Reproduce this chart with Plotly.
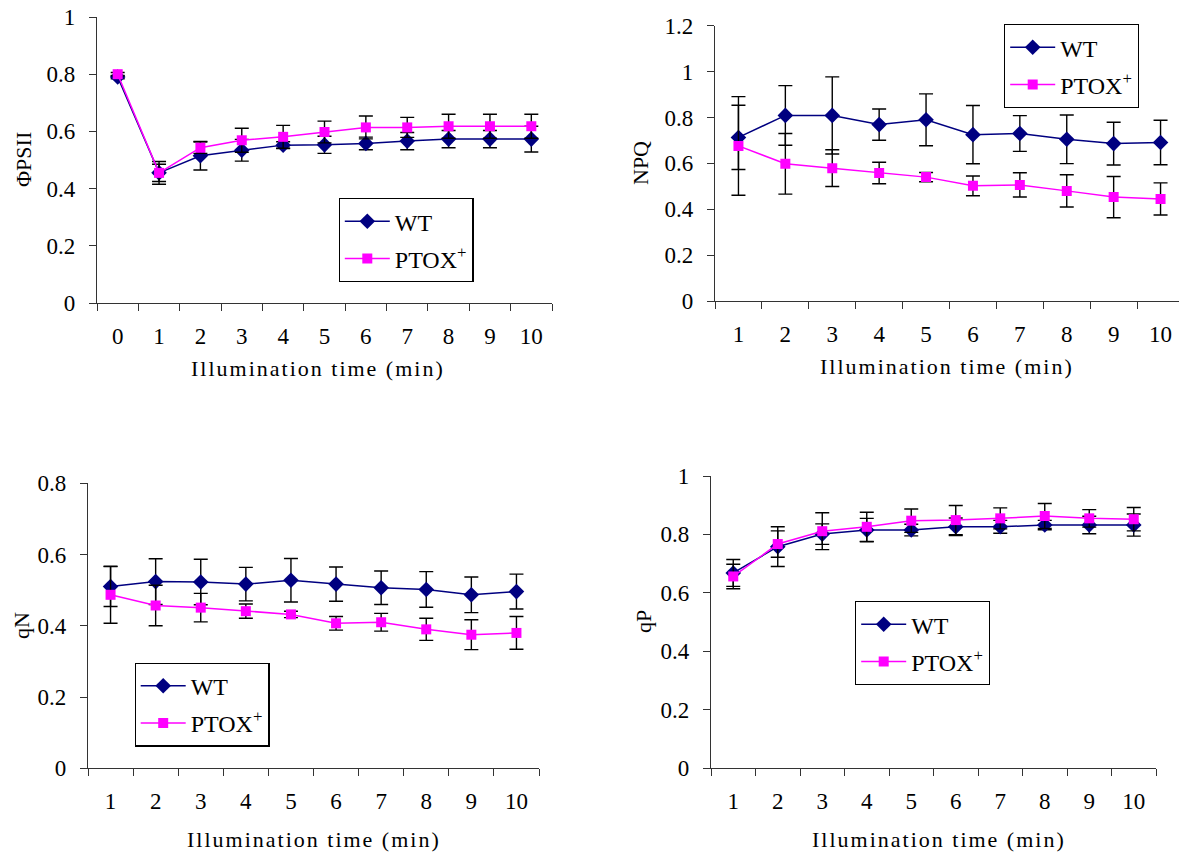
import plotly.graph_objects as go

W, H = 1179, 854

# ---------------- data ----------------
time_psii = ["0", "1", "2", "3", "4", "5", "6", "7", "8", "9", "10"]
time_min = ["1", "2", "3", "4", "5", "6", "7", "8", "9", "10"]

psii_wt = [0.79, 0.455, 0.515, 0.534, 0.552, 0.553, 0.558, 0.566, 0.573, 0.573, 0.573]
psii_wt_err = [0.006, 0.04, 0.05, 0.038, 0.012, 0.03, 0.022, 0.03, 0.03, 0.03, 0.045]
psii_ptox = [0.80, 0.455, 0.543, 0.569, 0.581, 0.598, 0.614, 0.614, 0.618, 0.618, 0.618]
psii_ptox_err = [0.006, 0.03, 0.02, 0.042, 0.04, 0.038, 0.04, 0.035, 0.042, 0.042, 0.042]

npq_wt = [0.713, 0.809, 0.809, 0.769, 0.79, 0.725, 0.73, 0.705, 0.686, 0.691]
npq_wt_err = [0.14, 0.13, 0.168, 0.068, 0.113, 0.127, 0.078, 0.106, 0.093, 0.097]
npq_ptox = [0.676, 0.598, 0.579, 0.558, 0.54, 0.502, 0.506, 0.48, 0.453, 0.445]
npq_ptox_err = [0.215, 0.132, 0.08, 0.047, 0.02, 0.043, 0.053, 0.07, 0.09, 0.07]

qn_wt = [0.51, 0.524, 0.523, 0.517, 0.528, 0.517, 0.507, 0.502, 0.487, 0.496]
qn_wt_err = [0.056, 0.064, 0.064, 0.047, 0.061, 0.048, 0.047, 0.05, 0.05, 0.049]
qn_ptox = [0.487, 0.457, 0.451, 0.441, 0.432, 0.407, 0.41, 0.39, 0.375, 0.38]
qn_ptox_err = [0.08, 0.057, 0.04, 0.02, 0.009, 0.019, 0.025, 0.031, 0.042, 0.046]

qp_wt = [0.668, 0.758, 0.801, 0.815, 0.815, 0.826, 0.826, 0.832, 0.832, 0.832]
qp_wt_err = [0.046, 0.068, 0.035, 0.04, 0.02, 0.03, 0.022, 0.016, 0.03, 0.038]
qp_ptox = [0.656, 0.767, 0.811, 0.826, 0.847, 0.849, 0.855, 0.863, 0.855, 0.852]
qp_ptox_err = [0.042, 0.045, 0.063, 0.05, 0.04, 0.05, 0.036, 0.043, 0.03, 0.04]

series_names = ["WT", "PTOX<sup>+</sup>"]
y_titles = ["ΦPSII", "NPQ", "qN", "qP"]
x_title = "Illumination time (min)"

# ---------------- style ----------------
FONT = "Liberation Serif"
WT_COLOR = "#000080"
PTOX_COLOR = "#FF00FF"
AXIS_COLOR = "#333333"


def px_x(px):
    return px / W


def px_y(py):
    return 1 - py / H


fig = go.Figure()

panels = [
    (time_psii, psii_wt, psii_wt_err, psii_ptox, psii_ptox_err, "x", "y", "legend"),
    (time_min, npq_wt, npq_wt_err, npq_ptox, npq_ptox_err, "x2", "y2", "legend2"),
    (time_min, qn_wt, qn_wt_err, qn_ptox, qn_ptox_err, "x3", "y3", "legend3"),
    (time_min, qp_wt, qp_wt_err, qp_ptox, qp_ptox_err, "x4", "y4", "legend4"),
]

for i, (xs, wt, wte, pt, pte, xa, ya, lg) in enumerate(panels):
    fig.add_trace(go.Scatter(
        x=xs, y=wt, name=series_names[0], mode="lines+markers",
        line=dict(color=WT_COLOR, width=1.5),
        marker=dict(symbol="diamond", size=12, color=WT_COLOR),
        error_y=dict(type="data", array=wte, visible=True, color="black",
                     thickness=1.4, width=7),
        xaxis=xa, yaxis=ya, legend=lg, legendgroup=f"wt{i}", showlegend=True,
    ))
    fig.add_trace(go.Scatter(
        x=xs, y=pt, name=series_names[1], mode="lines+markers",
        line=dict(color=PTOX_COLOR, width=1.5),
        marker=dict(symbol="square", size=10, color=PTOX_COLOR),
        error_y=dict(type="data", array=pte, visible=True, color="black",
                     thickness=1.4, width=7),
        xaxis=xa, yaxis=ya, legend=lg, legendgroup=f"pt{i}", showlegend=True,
    ))

# panel geometry in pixels: (left, right, top, bottom, yrange, xrange)
geom = [
    (97, 552, 17, 303, [0, 1.0], [-0.5, 10.5]),
    (715, 1179, 25.7, 301, [0, 1.2], [-0.5, -0.5 + (1179 - 715) / 46.9]),
    (88, 539, 483.3, 768.3, [0, 0.8], [-0.5, 9.5]),
    (711, 1156, 476, 768, [0, 1.0], [-0.5, 9.5]),
]

tick_font = dict(family=FONT, size=23, color="black")
layout_axes = {}
for i, (l, r, t, b, yr, xr) in enumerate(geom):
    sfx = "" if i == 0 else str(i + 1)
    layout_axes[f"xaxis{sfx}"] = dict(
        domain=[px_x(l), px_x(r)], anchor=f"y{sfx}", type="category",
        range=xr, tickson="boundaries", ticks="outside", ticklen=7,
        tickwidth=1.3, tickcolor=AXIS_COLOR, showline=True, linecolor=AXIS_COLOR,
        linewidth=1.3, showgrid=False, zeroline=False, tickfont=tick_font,
        ticklabelstandoff=12, fixedrange=True, automargin=False,
    )
    layout_axes[f"yaxis{sfx}"] = dict(
        domain=[px_y(b), px_y(t)], anchor=f"x{sfx}", range=yr, dtick=0.2,
        tick0=0, ticks="outside", ticklen=7, tickwidth=1.3, tickcolor=AXIS_COLOR,
        showline=True, linecolor=AXIS_COLOR, linewidth=1.3, showgrid=False,
        zeroline=False, tickfont=tick_font, ticklabelstandoff=9,
        fixedrange=True, automargin=False,
    )

legend_pos = [(338.6, 198), (1004, 24), (134.5, 662.5), (855, 601)]
legend_common = dict(
    xanchor="left", yanchor="top", bordercolor="black", borderwidth=1.2,
    bgcolor="white", font=dict(family=FONT, size=24, color="black"),
    tracegroupgap=3, itemwidth=45,
)
legends = {}
for i, (lx, ly) in enumerate(legend_pos):
    key = "legend" if i == 0 else f"legend{i + 1}"
    legends[key] = dict(x=px_x(lx), y=px_y(ly), **legend_common)

# axis titles as annotations
annotations = []
ytitle_pos = [(23, 160), (640, 163), (21, 626), (643, 622)]
for txt, (ax_, ay_) in zip(y_titles, ytitle_pos):
    annotations.append(dict(
        text=txt, x=px_x(ax_), y=px_y(ay_), xref="paper", yref="paper",
        showarrow=False, textangle=-90, xanchor="center", yanchor="middle",
        font=dict(family=FONT, size=22, color="black"),
    ))
xtitle_pos = [(318, 369), (947, 366), (314, 839), (939, 839)]
for (ax_, ay_) in xtitle_pos:
    annotations.append(dict(
        text=x_title, x=px_x(ax_), y=px_y(ay_), xref="paper", yref="paper",
        showarrow=False, xanchor="center", yanchor="middle",
        font=dict(family=FONT, size=22, color="black"),
    ))

fig.update_layout(
    width=W, height=H,
    margin=dict(l=0, r=0, t=0, b=0, pad=0, autoexpand=False),
    paper_bgcolor="white", plot_bgcolor="white",
    font=dict(family=FONT, color="black"),
    annotations=annotations,
    **layout_axes, **legends,
)

post_js = """
document.body.style.margin = '0';
document.body.style.overflow = 'hidden';
document.querySelectorAll('g.annotation-text-g text').forEach(function (t) {
  if (t.textContent.indexOf('Illumination') === 0) { t.style.letterSpacing = '2px'; }
});
"""

fig.write_html("out.html", config={"displayModeBar": False}, post_script=post_js)
